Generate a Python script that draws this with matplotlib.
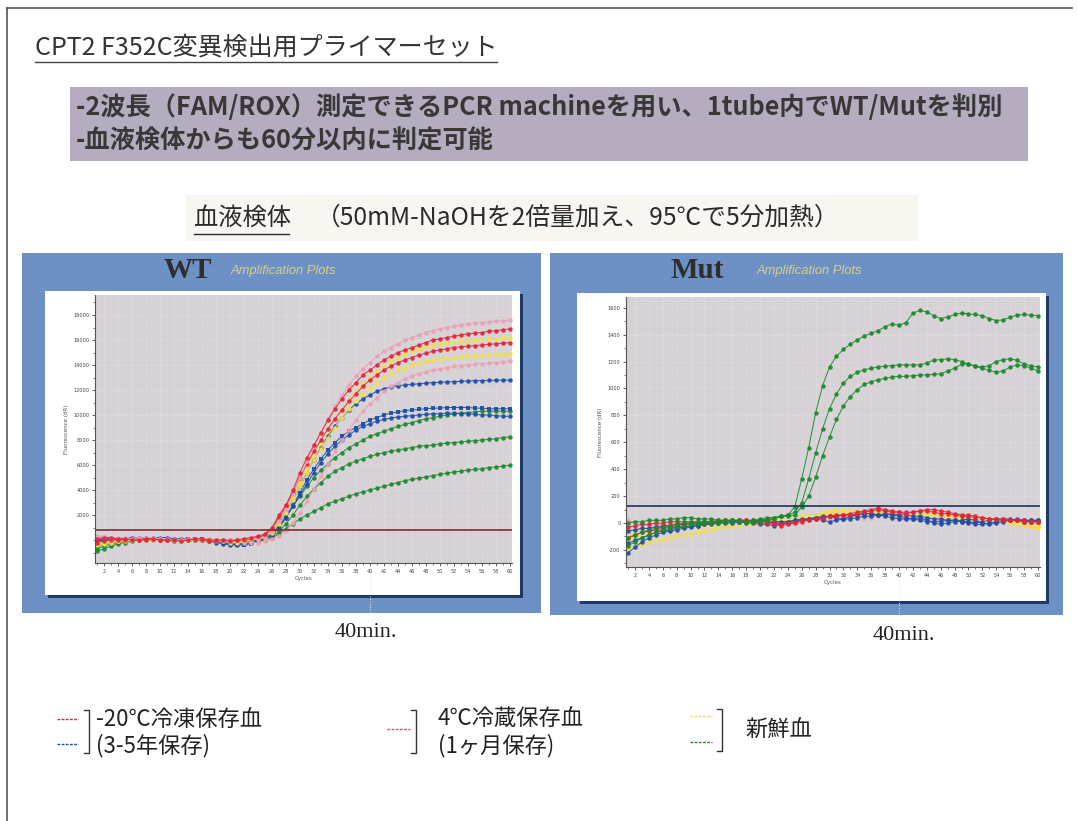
import matplotlib
matplotlib.use('Agg')
import matplotlib.pyplot as plt
from matplotlib.patches import Rectangle
from matplotlib.lines import Line2D
from matplotlib.ticker import MultipleLocator

plt.rcParams['font.family'] = ['Noto Sans CJK JP', 'DejaVu Sans']

# ---------------- data ----------------
cycle_ticks = list(range(2, 61, 2))
wt_yticks = [2000, 4000, 6000, 8000, 10000, 12000, 14000, 16000, 18000]
mut_yticks = [-200, 0, 200, 400, 600, 800, 1000, 1200, 1400, 1600]
wt_threshold = 800
mut_threshold = 130
marker_cycle = 40

# WT panel (Fluorescence dR), cycles 1..60
wt_red_a = [100,200,200,100,100,0,0,100,100,0,0,0,-100,0,100,100,0,0,0,-100,0,100,200,300,
            500,1000,2000,2800,4000,5400,6600,7600,8600,9600,10500,11300,12000,12600,13200,13600,
            14000,14400,14700,15000,15200,15400,15600,15800,16000,16100,16200,16300,16400,16500,
            16550,16600,16700,16750,16800,16900]
wt_red_b = [-200,-100,0,0,0,100,0,0,100,0,0,0,0,100,0,0,-100,-100,0,0,0,0,100,200,
            400,900,1800,2700,3800,5000,6100,7100,8000,8900,9700,10400,11100,11700,12300,12800,
            13200,13600,13900,14200,14400,14600,14800,14950,15100,15200,15300,15400,15450,15500,
            15550,15600,15650,15700,15750,15800]
wt_pink_a = [300,300,200,200,200,100,100,200,200,100,100,0,0,100,100,100,100,0,0,0,100,100,100,100,
             200,700,1500,2500,3700,5000,6300,7500,8600,9700,10700,11600,12400,13100,13700,14200,
             14700,15100,15400,15700,16000,16200,16400,16600,16750,16900,17000,17100,17200,17300,
             17350,17400,17450,17500,17550,17600]
wt_pink_b = [200,200,200,100,100,100,200,100,100,100,0,0,0,100,100,0,0,0,-100,-100,-100,-200,-200,-200,
             -100,100,300,700,1400,2200,3100,4100,5100,6100,7100,8000,8800,9600,10300,10900,
             11400,11900,12300,12600,12900,13100,13300,13450,13600,13700,13800,13900,13950,14000,
             14050,14100,14150,14200,14250,14300]
wt_yellow_a = [-300,-200,-100,-100,0,0,0,0,100,100,0,0,0,0,0,0,-100,0,0,0,-100,0,0,100,
               300,800,1600,2500,3500,4600,5700,6800,7800,8800,9700,10500,11200,11900,12500,13000,
               13500,13900,14300,14600,14900,15100,15300,15450,15600,15700,15800,15850,15900,15950,
               16000,16050,16100,16120,16150,16200]
wt_yellow_b = [-400,-300,-200,-100,-100,0,0,0,0,0,0,0,-100,0,0,0,0,-100,-100,-200,-200,-100,0,100,
               200,600,1300,2200,3200,4300,5400,6400,7300,8200,9000,9800,10500,11100,11700,12200,
               12600,13000,13300,13600,13800,14000,14150,14300,14400,14500,14550,14600,14650,14700,
               14750,14780,14800,14850,14880,14900]
wt_blue_a = [0,100,100,100,100,200,100,100,200,200,200,100,100,100,0,0,-100,-100,-200,-300,-300,-300,-200,0,
             200,600,1300,2200,3200,4300,5400,6400,7400,8300,9100,9800,10400,10900,11300,11600,
             11900,12100,12250,12350,12400,12450,12500,12550,12600,12620,12650,12680,12700,12720,
             12740,12760,12770,12780,12790,12800]
wt_blue_b = [-100,0,0,100,100,100,100,100,100,0,0,0,0,100,100,100,0,-100,-200,-300,-400,-400,-300,-100,
             100,500,1100,1900,2800,3800,4800,5700,6500,7200,7800,8300,8700,9000,9300,9600,
             9800,10000,10150,10250,10350,10400,10450,10500,10550,10550,10600,10600,10600,10600,
             10550,10550,10500,10500,10500,10500]
wt_blue_c = [0,0,100,100,100,100,200,200,100,100,0,0,0,0,100,0,-100,-200,-300,-400,-400,-300,-200,0,
             100,400,1000,1800,2700,3600,4500,5400,6200,6900,7500,8000,8400,8800,9100,9300,
             9500,9650,9750,9850,9900,9950,10000,10050,10100,10100,10150,10150,10100,10100,
             10050,10000,10000,9950,9900,9900]
wt_green_a = [-500,-300,-200,-100,0,0,100,100,100,0,0,0,0,0,0,0,-100,-100,-200,-200,-200,-100,0,100,
              200,500,1000,1800,2700,3500,4300,5000,5600,6100,6600,7000,7400,7700,8000,8300,
              8500,8700,8900,9100,9250,9400,9550,9700,9800,9900,10000,10100,10150,10200,
              10250,10300,10300,10300,10300,10300]
wt_green_b = [-700,-500,-300,-200,-100,0,0,100,100,100,0,0,-100,0,0,0,0,-100,-100,-100,-100,0,0,0,
              100,300,700,1300,2000,2800,3500,4100,4600,5100,5500,5800,6100,6300,6500,6700,
              6850,7000,7100,7200,7300,7400,7500,7550,7600,7700,7750,7800,7850,7900,
              7950,8000,8050,8100,8200,8250]
wt_green_c = [-900,-700,-500,-300,-200,-100,0,0,0,0,0,-100,0,0,0,0,0,-100,-100,-100,-100,-100,-100,-100,
              0,200,500,900,1300,1700,2000,2300,2600,2900,3100,3300,3500,3700,3850,4000,
              4150,4300,4450,4600,4750,4850,4950,5050,5150,5250,5350,5450,5500,5600,
              5650,5700,5800,5850,5900,6000]

# Mut panel (Fluorescence dR), cycles 1..60
mut_green_a = [0,10,10,20,20,20,30,30,40,40,30,30,30,20,20,20,20,10,10,10,20,30,50,60,
               120,330,560,820,1020,1160,1240,1290,1330,1360,1390,1410,1430,1460,1480,1470,
               1490,1560,1580,1570,1540,1520,1530,1550,1560,1555,1550,1540,1520,1505,
               1510,1530,1545,1550,1545,1540]
mut_green_b = [-110,-90,-70,-50,-40,-30,-20,-10,0,0,0,10,10,10,20,20,10,10,20,30,40,40,50,60,
               80,150,330,520,700,850,960,1040,1090,1120,1140,1150,1160,1165,1170,1175,
               1175,1175,1175,1190,1210,1215,1220,1215,1200,1180,1165,1160,1170,1200,
               1215,1220,1210,1180,1170,1160]
mut_green_c = [-170,-140,-110,-90,-70,-50,-40,-30,-20,-10,-10,0,0,0,10,10,10,10,10,20,30,40,50,50,
               60,120,200,340,500,640,770,870,940,990,1030,1050,1065,1075,1085,1090,
               1090,1095,1100,1100,1105,1110,1130,1150,1180,1185,1165,1150,1135,1120,
               1130,1160,1175,1170,1150,1130]
mut_red_a = [-30,-20,-10,-10,0,0,10,10,10,10,10,10,10,20,20,20,20,20,10,10,
             10,0,-10,0,10,20,20,30,40,50,60,60,70,80,90,100,110,100,90,80,
             80,80,90,100,100,90,80,70,60,60,50,40,30,30,20,20,20,10,10,10]
mut_red_b = [-110,-90,-70,-60,-50,-40,-30,-20,-10,0,0,0,10,10,10,20,20,20,10,0,
             0,-10,-20,-10,0,10,20,30,40,50,50,60,60,70,80,90,100,90,80,80,
             70,80,90,90,80,70,70,60,50,50,40,40,30,30,30,20,20,20,10,10]
mut_blue_a = [-220,-180,-140,-110,-90,-70,-60,-50,-40,-30,-20,-10,-10,0,0,0,10,10,10,10,
              10,0,0,10,20,30,30,30,20,10,20,30,50,60,70,70,60,50,40,30,
              30,30,40,20,0,-10,0,10,20,30,20,0,-10,0,10,20,30,20,20,20]
mut_blue_b = [-150,-130,-110,-90,-70,-60,-50,-40,-30,-20,-20,-10,0,0,10,10,10,0,0,-10,
              -10,-20,-10,0,10,20,30,40,50,50,50,60,60,60,70,70,60,60,70,60,
              60,50,50,40,30,30,20,20,10,10,0,10,20,30,30,30,20,20,20,20]
mut_blue_c = [-60,-50,-40,-40,-30,-20,-20,-10,-10,0,0,0,0,10,10,10,20,20,20,20,
              20,10,10,10,20,20,30,40,40,50,40,30,30,40,50,50,60,70,60,50,
              40,30,20,10,10,10,20,20,10,0,-10,-10,0,10,20,20,20,10,10,10]
mut_yellow_a = [-190,-170,-160,-140,-130,-120,-110,-100,-90,-80,-70,-60,-50,-40,-30,-20,-20,-10,-10,0,
                0,0,10,10,20,30,40,60,80,90,100,100,90,90,80,80,90,100,90,80,
                70,60,60,70,80,70,60,50,40,40,30,30,20,20,10,0,-10,-20,-30,-40]
mut_yellow_b = [-130,-110,-100,-90,-80,-70,-60,-50,-40,-30,-30,-20,-20,-10,-10,0,0,10,10,10,
                10,10,20,20,30,40,50,60,70,80,90,80,70,70,80,90,80,70,60,60,
                70,80,90,80,70,60,60,50,50,40,40,30,30,20,20,10,10,0,0,-10]
mut_yellow_c = [-80,-70,-60,-50,-40,-30,-30,-20,-20,-10,-10,0,0,0,10,10,10,10,20,20,
                20,20,30,30,40,50,50,60,60,70,70,60,60,50,60,70,70,60,50,50,
                50,60,70,70,60,50,40,40,30,30,30,20,20,20,10,10,0,0,-10,-20]
mut_pink_a = [20,0,-10,-20,-20,-10,-10,0,0,10,10,10,20,20,20,10,10,0,0,0,
              10,10,20,20,20,30,30,30,40,40,50,50,50,40,50,60,60,50,40,40,
              30,30,30,20,20,20,20,10,10,10,20,20,20,10,10,10,10,0,0,0]
mut_pink_b = [-100,-80,-70,-60,-50,-50,-40,-30,-30,-20,-20,-10,-10,0,0,0,10,10,10,10,
              0,0,10,20,20,20,30,30,30,40,40,40,50,50,40,40,50,60,50,40,
              40,40,30,30,30,40,40,30,20,20,20,30,30,20,20,10,10,10,0,0]

# colours
RED = '#e3263a'
PINK = '#eea0b4'
YELLOW = '#f2e04a'
BLUE = '#1f4fa8'
GREEN = '#1d8a2f'

wt_series = [(wt_green_c, GREEN, 'o'), (wt_green_b, GREEN, 'o'), (wt_green_a, GREEN, 'o'),
             (wt_blue_c, BLUE, 'o'), (wt_blue_b, BLUE, 's'), (wt_blue_a, BLUE, 'o'),
             (wt_pink_b, PINK, 'o'), (wt_yellow_b, YELLOW, 'o'), (wt_yellow_a, YELLOW, 'o'),
             (wt_red_b, RED, 'o'), (wt_pink_a, PINK, 'o'), (wt_red_a, RED, 'o')]
mut_series = [(mut_pink_b, PINK, 'o'), (mut_pink_a, PINK, 'o'),
              (mut_yellow_a, YELLOW, 'o'), (mut_yellow_b, YELLOW, 'o'), (mut_yellow_c, YELLOW, 'o'),
              (mut_blue_a, BLUE, 'o'), (mut_blue_b, BLUE, 'o'), (mut_blue_c, BLUE, 'o'),
              (mut_red_a, RED, 'o'), (mut_red_b, RED, 'o'),
              (mut_green_c, GREEN, 'o'), (mut_green_b, GREEN, 'o'), (mut_green_a, GREEN, 'o')]

# ---------------- figure ----------------
W, H = 1077, 821
fig = plt.figure(figsize=(W / 100, H / 100), dpi=100)
fig.patch.set_facecolor('white')


def fx(x):
    return x / W


def fy(y):
    return 1 - y / H


def rect(x0, y0, x1, y1, z=-2, **kw):
    fig.add_artist(Rectangle((fx(x0), fy(y1)), (x1 - x0) / W, (y1 - y0) / H,
                             transform=fig.transFigure, zorder=z, **kw))


def fline(xs, ys, z=5, **kw):
    fig.add_artist(Line2D([fx(x) for x in xs], [fy(y) for y in ys],
                          transform=fig.transFigure, zorder=z, **kw))


def ftext(x, y, s, **kw):
    return fig.text(fx(x), fy(y), s, **kw)


# slide border
fline([7, 7], [8, 821], color='#555555', lw=1.2)
fline([7, 1072], [8, 8], color='#555555', lw=1.2)

# title
ftext(35, 48, 'CPT2 F352C変異検出用プライマーセット', fontsize=18, color='#333333',
      va='center', ha='left')
fline([35, 497], [62, 62], color='#444444', lw=1.0)

# purple box
rect(70, 87, 1028, 161, facecolor='#b6acc0', edgecolor='none')
ftext(76, 108, '-2波長（FAM/ROX）測定できるPCR machineを用い、1tube内でWT/Mutを判別',
      fontsize=18.2, fontweight='bold', color='#383838', va='center', ha='left')
ftext(76, 141, '-血液検体からも60分以内に判定可能',
      fontsize=18.2, fontweight='bold', color='#383838', va='center', ha='left')

# heading
rect(186, 195, 918, 241, facecolor='#f9f6f2', edgecolor='none')
ftext(194, 218, '血液検体', fontsize=17.5, color='#2a2a2a', va='center', ha='left')
fline([194, 289], [234, 234], color='#2a2a2a', lw=1.0)
ftext(316, 218, '（50mM-NaOHを2倍量加え、95℃で5分加熱）', fontsize=17.8, color='#2a2a2a',
      va='center', ha='left')


def panel(frame, white, plot, title, title_x, subtitle_x, series, ylim, yticks,
          threshold, thr_color, minor):
    bx0, by0, bx1, by1 = frame
    rect(bx0, by0, bx1, by1, facecolor='#6d91c4', edgecolor='none')
    wx0, wy0, wx1, wy1 = white
    rect(wx0 + 3, wy0 + 3, wx1 + 3, wy1 + 3, facecolor='#1d3a66', edgecolor='none')
    rect(wx0, wy0, wx1, wy1, facecolor='white', edgecolor='none')
    ftext(title_x, by0 + 18, title, fontsize=21, fontweight='bold', color='#2e2e2e',
          family=['Liberation Serif', 'DejaVu Serif'], va='center', ha='center')
    ftext(subtitle_x, by0 + 18, 'Amplification Plots', fontsize=9.3, style='italic',
          color='#d8cf8a', va='center', ha='left', family=['Liberation Sans', 'DejaVu Sans'])
    px0, py0, px1, py1 = plot
    ax = fig.add_axes([fx(px0), fy(py1), (px1 - px0) / W, (py1 - py0) / H])
    ax.set_zorder(3)
    ax.set_facecolor('#d6d2d6')
    for vals, col, mk in series:
        cyc = list(range(1, len(vals) + 1))
        ax.plot(cyc, vals, color=col, lw=0.7, marker=mk, markersize=3.2,
                markeredgewidth=0, alpha=0.95)
    ax.axhline(threshold, color=thr_color, lw=1.2)
    ax.set_xlim(0.7, 60.3)
    ax.set_ylim(*ylim)
    ax.set_xticks(cycle_ticks)
    ax.set_xticklabels([str(c) for c in cycle_ticks], fontsize=3.6, color='#555555',
                       family=['DejaVu Sans'])
    ax.set_yticks(yticks)
    ax.set_yticklabels([str(v) for v in yticks], fontsize=3.6, color='#555555',
                       family=['DejaVu Sans'])
    ax.yaxis.set_minor_locator(MultipleLocator(minor))
    ax.xaxis.set_minor_locator(MultipleLocator(1))
    ax.tick_params(axis='both', which='major', length=2.5, width=0.6, colors='#444444', pad=1.5)
    ax.tick_params(axis='both', which='minor', length=1.5, width=0.5, colors='#444444')
    ax.grid(True, which='major', color='#ebe7eb', lw=0.5, ls=':')
    for s in ['top', 'right']:
        ax.spines[s].set_visible(False)
    for s in ['left', 'bottom']:
        ax.spines[s].set_color('#555555')
        ax.spines[s].set_linewidth(0.8)
    ax.set_xlabel('Cycles', fontsize=4, color='#555555', labelpad=2, family=['DejaVu Sans'])
    ax.set_ylabel('Fluorescence (dR)', fontsize=4, color='#555555', labelpad=3,
                  family=['DejaVu Sans'])
    # 40 min marker
    xpix = px0 + (marker_cycle - 0.7) / (60.3 - 0.7) * (px1 - px0)
    fline([xpix, xpix], [py1 + 2, by1 - 1], color='#e8e8f0', lw=0.7, ls=':')
    return ax, xpix


ax1, xm1 = panel((22, 253, 541, 613), (45, 291, 520, 595), (95, 295, 512, 563), 'WT', 188, 231,
                 wt_series, (-1840, 19600), wt_yticks, wt_threshold, '#8a2a2a', 1000)
ax2, xm2 = panel((550, 253, 1063, 615), (577, 293, 1046, 601), (626, 297, 1040, 567), 'Mut', 697, 757,
                 mut_series, (-327, 1680), mut_yticks, mut_threshold, '#1c3160', 100)

ftext(366, 632, '40min.', fontsize=16, color='#222222', ha='center', va='center',
      family=['Liberation Serif', 'DejaVu Serif'])
ftext(904, 636, '40min.', fontsize=16, color='#222222', ha='center', va='center',
      family=['Liberation Serif', 'DejaVu Serif'])

# legend at bottom
def leg_line(x0, x1, y, col):
    fline([x0, x1], [y, y], color=col, lw=1.0, ls=(0, (2, 1)))


def bracket(x, y0, y1):
    fline([x - 5, x, x, x - 5], [y0, y0, y1, y1], color='#333333', lw=1.0)


leg_line(57, 78, 719, RED)
leg_line(57, 78, 744, BLUE)
bracket(89, 710, 753)
ftext(96, 719, '-20℃冷凍保存血', fontsize=16, color='#222222', va='center', ha='left')
ftext(96, 746, '(3-5年保存)', fontsize=16, color='#222222', va='center', ha='left')

leg_line(387, 410, 729, '#c45c78')
bracket(416, 710, 753)
ftext(438, 719, '4℃冷蔵保存血', fontsize=16, color='#222222', va='center', ha='left')
ftext(438, 746, '(1ヶ月保存)', fontsize=16, color='#222222', va='center', ha='left')

leg_line(690, 712, 716, YELLOW)
leg_line(690, 712, 742, GREEN)
bracket(722, 709, 751)
ftext(745, 730, '新鮮血', fontsize=16, color='#222222', va='center', ha='left')

fig.savefig('out.png', dpi=100, facecolor='white')
